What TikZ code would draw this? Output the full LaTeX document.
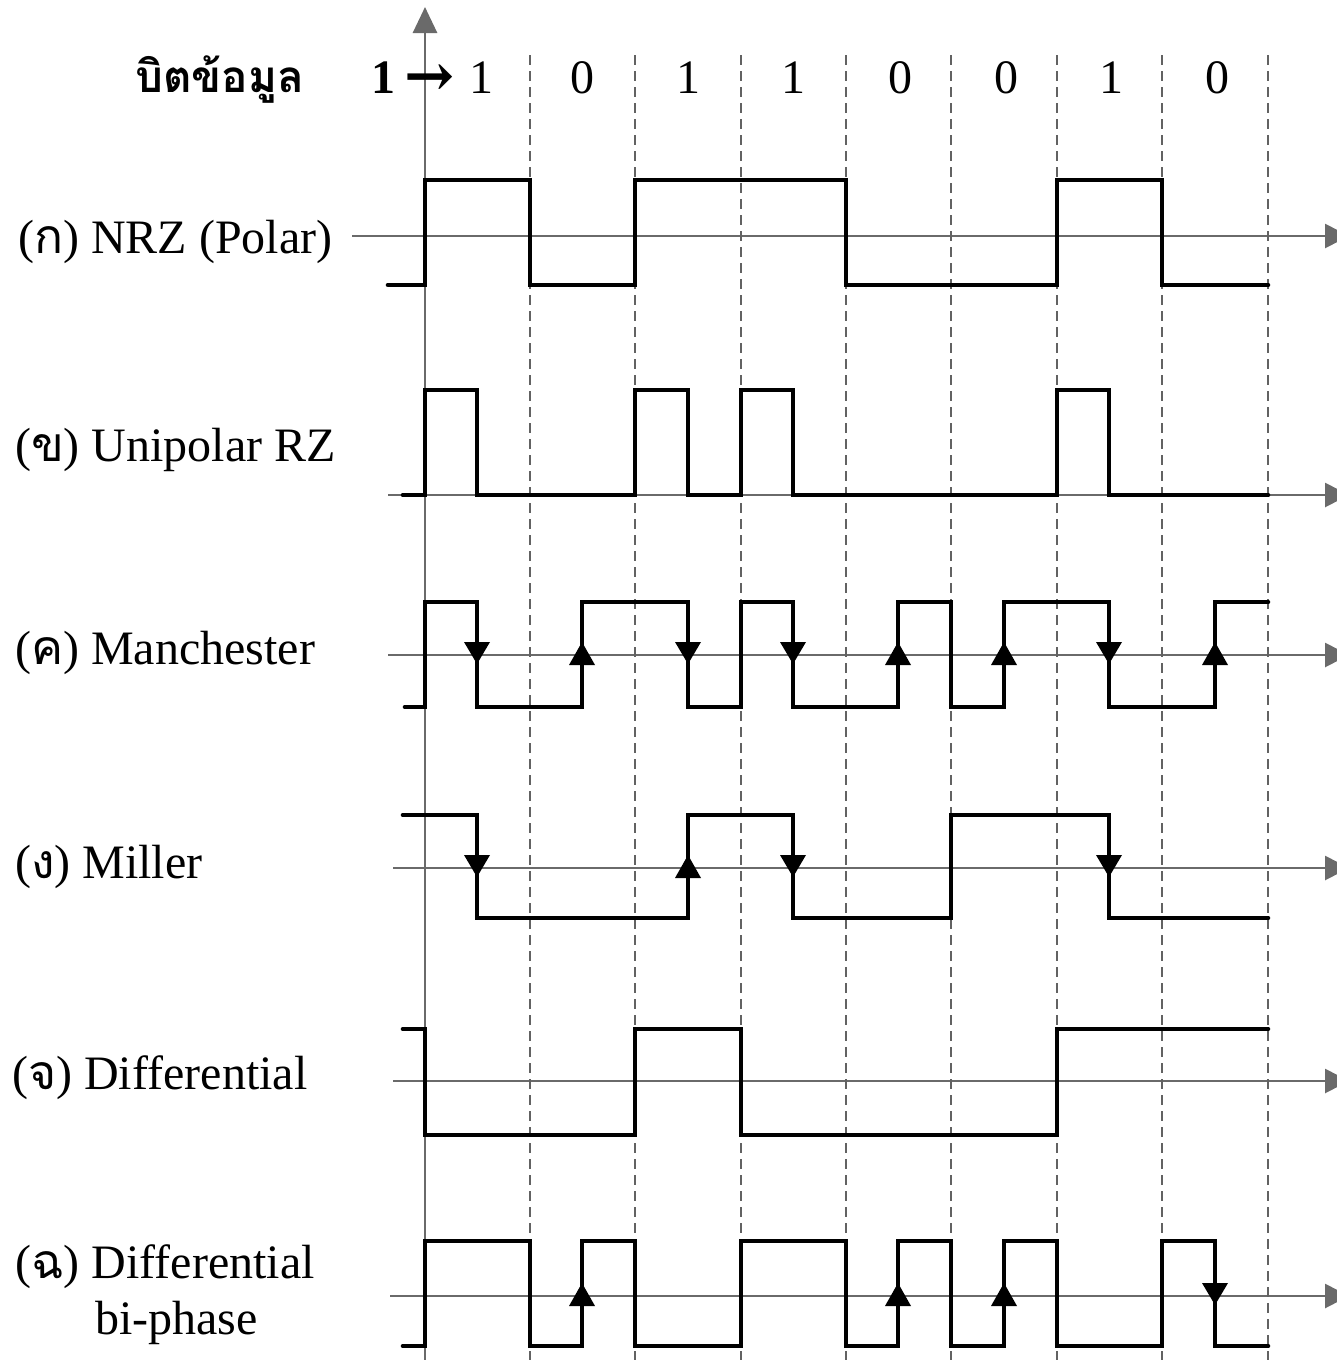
\documentclass[tikz,border=0pt]{standalone}
\usepackage{fontspec}
\setmainfont{Liberation Serif}
\newfontfamily\thaifont[Script=Thai]{Loma}
\newfontfamily\arrfont{DejaVu Serif}
\usetikzlibrary{arrows.meta}
\definecolor{axgray}{HTML}{6A6A6A}
\definecolor{dashgray}{HTML}{626262}
\newcommand{\dnmark}[2]{\fill[black] ({#1-13},{#2-13}) -- ({#1+13},{#2-13}) -- ({#1},{#2+9}) -- cycle;}
\newcommand{\upmark}[2]{\fill[black] ({#1-13},{#2+10}) -- ({#1+13},{#2+10}) -- ({#1},{#2-13}) -- cycle;}
\newcommand{\thc}[1]{{\thaifont #1}}
\tikzset{
  axisline/.style={draw=axgray, line width=2.8pt, -{Triangle[length=24pt,width=24pt]}},
  gridline/.style={draw=dashgray, line width=2.6pt, dash pattern=on 10pt off 6pt},
  signal/.style={draw=black, line width=4.6pt, line cap=round, line join=miter},
  lab/.style={anchor=base west, inner sep=0pt, font=\fontsize{48}{56}\selectfont},
  bitlab/.style={anchor=base, inner sep=0pt, font=\fontsize{48}{56}\selectfont}
}
\begin{document}
\begin{tikzpicture}[x=1pt,y=-1pt]
\useasboundingbox (0,0) rectangle (1336,1360);
% vertical axis
\draw[draw=axgray, line width=2.8pt, -{Triangle[length=26pt,width=24pt]}] (425,1362) -- (425,7);
% horizontal axes
\draw[axisline] (352,236) -- (1349,236);
\draw[axisline] (388,495) -- (1349,495);
\draw[axisline] (388,655) -- (1349,655);
\draw[axisline] (393,868) -- (1349,868);
\draw[axisline] (393,1081) -- (1349,1081);
\draw[axisline] (390,1296) -- (1349,1296);
% bit boundaries
\foreach \x in {530,635,741,846,951,1057,1162,1268}
  \draw[gridline] (\x,55) -- (\x,1362);
% header
\node[lab, font=\fontsize{44}{52}\selectfont\thaifont\bfseries] (title) at (135,92) {บิตข้อมูล};
\node[bitlab, font=\fontsize{48}{56}\selectfont\bfseries] (b0) at (383,93) {1};
\node[bitlab, font=\fontsize{60}{64}\selectfont\arrfont\bfseries] (arr) at (430,96) {→};
\foreach \x/\b [count=\i] in {481/1,582/0,688/1,793/1,900/0,1006/0,1111/1,1217/0}
  \node[bitlab] (bit\i) at (\x,93) {\b};
% labels
\node[lab] (lab1) at (18,253) {(\thc{ก}) NRZ (Polar)};
\node[lab] (lab2) at (15,461) {(\thc{ข}) Unipolar RZ};
\node[lab] (lab3) at (15,664) {(\thc{ค}) Manchester};
\node[lab] (lab4) at (15,878) {(\thc{ง}) Miller};
\node[lab] (lab5) at (12,1089) {(\thc{จ}) Differential};
\node[lab] (lab6) at (15,1278) {(\thc{ฉ}) Differential};
\node[lab] (lab6b) at (95,1334) {bi-phase};
% NRZ
\draw[signal] (388,285) -- (425,285) -- (425,180) -- (530,180) -- (530,285) -- (635,285) -- (635,180) -- (846,180) -- (846,285) -- (1057,285) -- (1057,180) -- (1162,180) -- (1162,285) -- (1268,285);
% Unipolar RZ
\draw[signal] (403,495) -- (425,495) -- (425,390) -- (477,390) -- (477,495) -- (635,495) -- (635,390) -- (688,390) -- (688,495) -- (741,495) -- (741,390) -- (793,390) -- (793,495) -- (1057,495) -- (1057,390) -- (1109,390) -- (1109,495) -- (1268,495);
% Manchester
\draw[signal] (405,707) -- (425,707) -- (425,602) -- (477,602) -- (477,707) -- (582,707) -- (582,602) -- (688,602) -- (688,707) -- (741,707) -- (741,602) -- (793,602) -- (793,707) -- (898,707) -- (898,602) -- (951,602) -- (951,707) -- (1004,707) -- (1004,602) -- (1109,602) -- (1109,707) -- (1215,707) -- (1215,602) -- (1268,602);
\dnmark{477}{655}\upmark{582}{655}\dnmark{688}{655}\dnmark{793}{655}
\upmark{898}{655}\upmark{1004}{655}\dnmark{1109}{655}\upmark{1215}{655}
% Miller
\draw[signal] (403,815) -- (477,815) -- (477,918) -- (688,918) -- (688,815) -- (793,815) -- (793,918) -- (951,918) -- (951,815) -- (1109,815) -- (1109,918) -- (1268,918);
\dnmark{477}{868}\upmark{688}{868}\dnmark{793}{868}\dnmark{1109}{868}
% Differential
\draw[signal] (403,1029) -- (425,1029) -- (425,1135) -- (635,1135) -- (635,1029) -- (741,1029) -- (741,1135) -- (1057,1135) -- (1057,1029) -- (1268,1029);
% Differential bi-phase
\draw[signal] (403,1346) -- (425,1346) -- (425,1241) -- (530,1241) -- (530,1346) -- (582,1346) -- (582,1241) -- (635,1241) -- (635,1346) -- (741,1346) -- (741,1241) -- (846,1241) -- (846,1346) -- (898,1346) -- (898,1241) -- (951,1241) -- (951,1346) -- (1004,1346) -- (1004,1241) -- (1057,1241) -- (1057,1346) -- (1162,1346) -- (1162,1241) -- (1215,1241) -- (1215,1346) -- (1268,1346);
\upmark{582}{1296}\upmark{898}{1296}\upmark{1004}{1296}\dnmark{1215}{1296}
\end{tikzpicture}
\end{document}
